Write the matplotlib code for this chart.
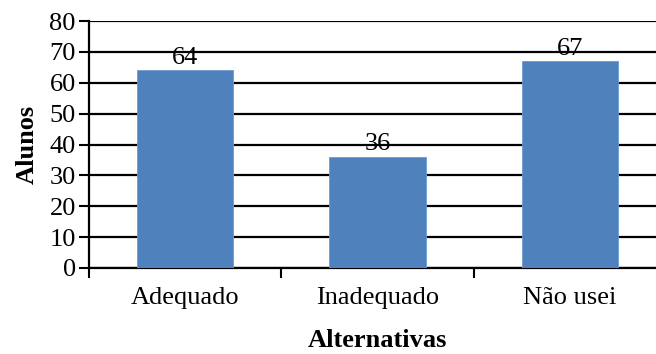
import matplotlib.pyplot as plt
from matplotlib.ticker import FixedLocator

categorias = ['Adequado', 'Inadequado', 'Não usei']
alunos = [64, 36, 67]
y_ticks = [0, 10, 20, 30, 40, 50, 60, 70, 80]

plt.rcParams['font.family'] = ['Liberation Serif', 'DejaVu Serif']

fig = plt.figure(figsize=(6.56, 3.54), dpi=100)
ax = fig.add_axes([89 / 656, 1 - 268 / 354, 577 / 656, 247 / 354])

x = list(range(len(categorias)))
bars = ax.bar(x, alunos, width=0.5, color='#4F81BD', edgecolor='#6F9AD0',
              linewidth=0.6, zorder=3)
for rect, v in zip(bars, alunos):
    ax.annotate(str(v), (rect.get_x() + rect.get_width() / 2, v),
                xytext=(0, 1), textcoords='offset points',
                ha='center', va='bottom', fontsize=19, zorder=4)

ax.set_xlim(-0.5, 2.5)
ax.set_ylim(0, 80)
ax.set_yticks(y_ticks)
ax.yaxis.grid(True, color='black', linewidth=1.6, zorder=0)
ax.set_axisbelow(True)

ax.set_xticks(x)
ax.set_xticklabels(categorias)
ax.xaxis.set_minor_locator(FixedLocator([-0.5, 0.5, 1.5, 2.5]))
ax.tick_params(axis='x', which='major', length=0, pad=14, labelsize=19)
ax.tick_params(axis='x', which='minor', length=7.5, width=1.5, direction='out')
ax.tick_params(axis='y', length=7.5, width=1.5, pad=2, labelsize=19)

for side in ('top', 'right'):
    ax.spines[side].set_visible(False)
ax.spines['left'].set_linewidth(1.6)
ax.spines['bottom'].set_linewidth(1.6)

ax.set_xlabel('Alternativas', fontsize=19, fontweight='bold', labelpad=14)
ax.set_ylabel('Alunos', fontsize=19, fontweight='bold', labelpad=8)

fig.savefig('out.png', dpi=100)
